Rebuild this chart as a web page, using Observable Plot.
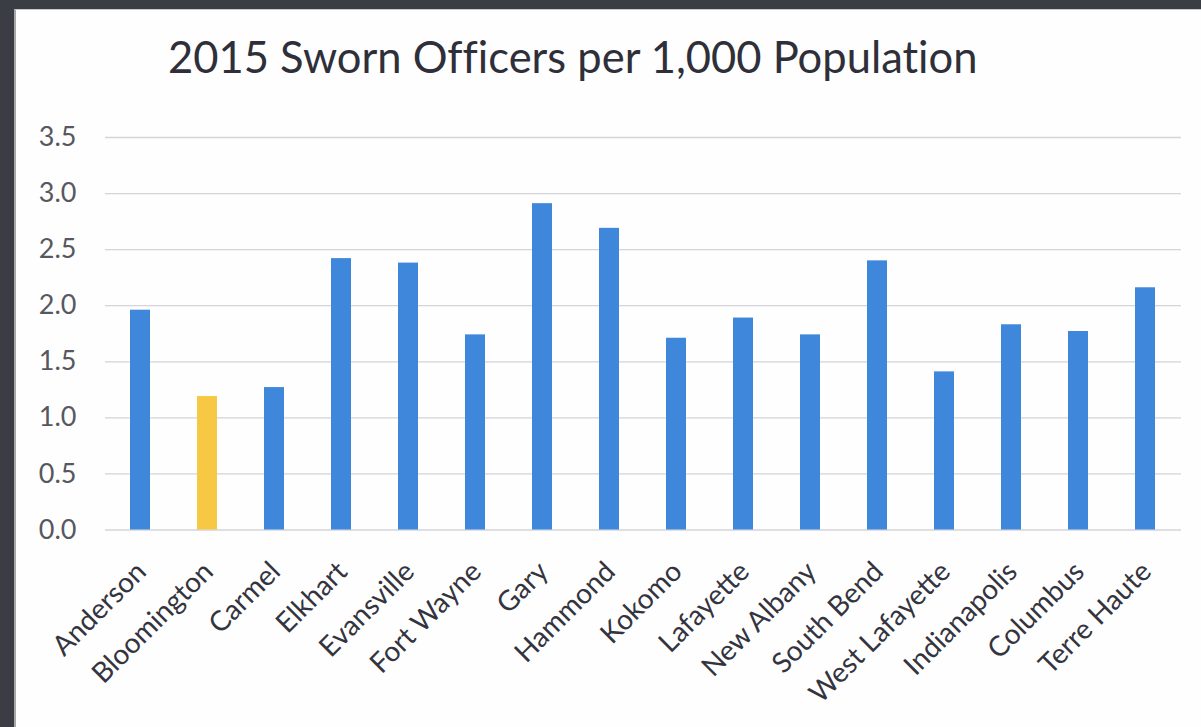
<!DOCTYPE html>
<html><head>
<meta charset="utf-8">
<script src="https://cdn.jsdelivr.net/npm/d3@7"></script>
<script src="https://cdn.jsdelivr.net/npm/@observablehq/plot@0.6"></script>
<style>
html,body{margin:0;padding:0}
body{background:#3a3d43;width:1201px;height:727px;overflow:hidden;position:relative;font-family:Lato,"Open Sans",sans-serif}
#panel{position:absolute;left:14px;top:9px;width:1187px;height:718px;background:#fefefe;border-left:2px solid #a8a8a8;border-top:1px solid #c8c8c8;box-sizing:border-box}
#title{position:absolute;left:168px;top:35px;font-size:43.5px;line-height:1;color:#2f2f3a;white-space:nowrap;font-family:Lato,sans-serif;font-variant-ligatures:none}
#chart{position:absolute;left:0;top:100px}
</style></head><body>
<div id="panel"></div>
<div id="title">2015 Sworn Officers per 1,000 Population</div>
<div id="chart"></div>
<script>
const cities = ["Anderson","Bloomington","Carmel","Elkhart","Evansville","Fort Wayne","Gary","Hammond","Kokomo","Lafayette","New Albany","South Bend","West Lafayette","Indianapolis","Columbus","Terre Haute"];
const officersPer1000 = [1.96,1.19,1.27,2.42,2.38,1.74,2.91,2.69,1.71,1.89,1.74,2.40,1.41,1.83,1.77,2.16];
const highlightCity = "Bloomington";
const yTicks = [0,0.5,1.0,1.5,2.0,2.5,3.0,3.5];

const data = cities.map((city, i) => ({city, value: officersPer1000[i]}));
const font = "Lato, 'Open Sans', sans-serif";

const chart = Plot.plot({
  width: 1201,
  height: 627,
  marginTop: 37,
  marginBottom: 197.5,
  marginLeft: 105,
  marginRight: 20,
  style: {background: "transparent", fontFamily: font, overflow: "visible"},
  x: {domain: cities, paddingInner: 0.695, paddingOuter: 0.3475, label: null},
  y: {domain: [0, 3.5], label: null},
  marks: [
    Plot.gridY(yTicks, {stroke: "#d4d4da", strokeOpacity: 1, strokeWidth: 1.3}),
    Plot.barY(data.filter(d => d.city !== highlightCity), {x: "city", y: "value", fill: "#3e87da"}),
    Plot.barY(data.filter(d => d.city === highlightCity), {x: "city", y: "value", fill: "#f6c843"}),
    Plot.axisY({ticks: yTicks, tickFormat: d3.format(".1f"), tickSize: 0, tickPadding: 29, fontSize: 27, fill: "#575760", label: null}),
    Plot.axisX({tickSize: 0, tickPadding: 0, tickRotate: -45, fontSize: 28, fill: "#34343e", dx: 1, dy: 37, label: null})
  ]
});
document.getElementById("chart").appendChild(chart);
</script>
</body></html>
